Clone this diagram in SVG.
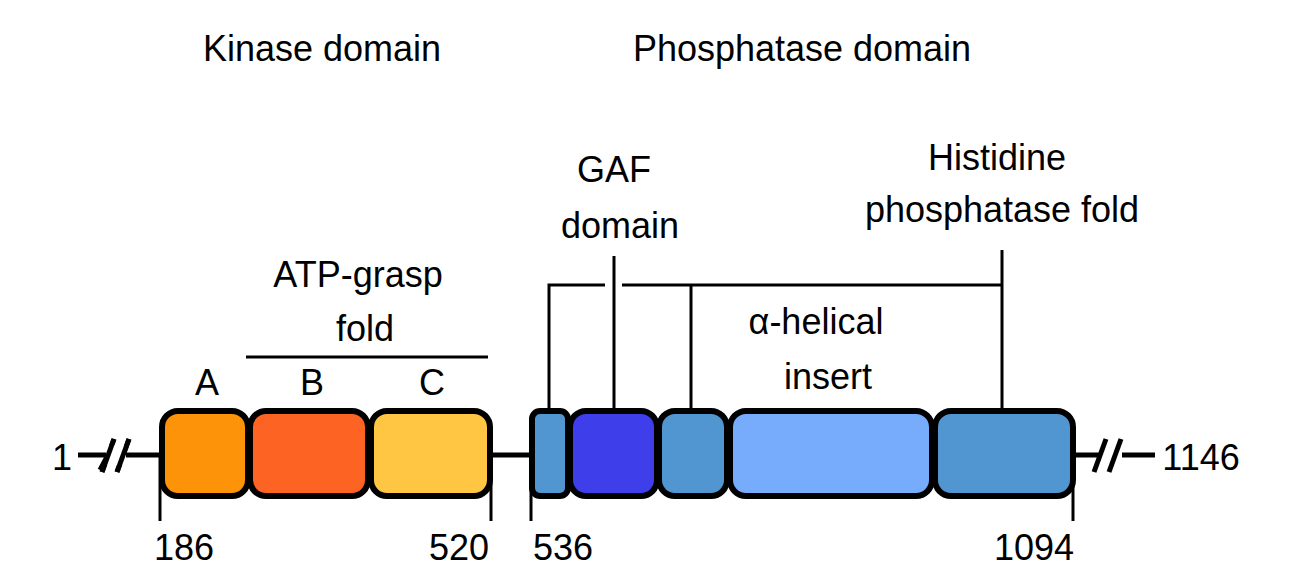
<svg xmlns="http://www.w3.org/2000/svg" width="1313" height="583" viewBox="0 0 1313 583">
<style>
text{font-family:"Liberation Sans",Arial,sans-serif;font-size:36px;fill:#000;text-anchor:middle}
.b{stroke:#000;stroke-width:6}
.l{stroke:#000;stroke-width:3;fill:none}
.t{stroke:#000;stroke-width:5;fill:none}
</style>
<rect width="1313" height="583" fill="#fff"/>
<g id="connectors">
<line class="t" x1="78" y1="455" x2="162" y2="455"/>
<line class="t" x1="490" y1="455" x2="532" y2="455"/>
<line class="t" x1="1073" y1="455" x2="1155" y2="455"/>
<line class="t" x1="100" y1="470" x2="116" y2="440" stroke="#fff"/>
<line x1="107" y1="472" x2="119" y2="439" stroke="#fff" stroke-width="12"/>
<line class="t" x1="102" y1="472" x2="114" y2="439"/>
<line class="t" x1="117" y1="472" x2="129" y2="439"/>
<line x1="1096" y1="472" x2="1124" y2="439" stroke="#fff" stroke-width="0"/>
<rect x="1100" y="445" width="22" height="20" fill="#fff"/>
<rect x="106" y="445" width="20" height="20" fill="#fff"/>
<line class="t" x1="102" y1="472" x2="114" y2="439"/>
<line class="t" x1="117" y1="472" x2="129" y2="439"/>
<line class="t" x1="1094" y1="472" x2="1106" y2="439"/>
<line class="t" x1="1109" y1="472" x2="1121" y2="439"/>
<line class="l" x1="160" y1="455" x2="160" y2="521"/>
<line class="l" x1="491" y1="455" x2="491" y2="521"/>
<line class="l" x1="531" y1="455" x2="531" y2="521"/>
<line class="l" x1="1073" y1="455" x2="1073" y2="521"/>
<line class="l" x1="246" y1="357" x2="488" y2="357"/>
<polyline class="l" points="549,411 549,285 605,285"/>
<line class="l" x1="622" y1="285" x2="1002" y2="285"/>
<line class="l" x1="614" y1="256" x2="614" y2="411"/>
<line class="l" x1="691" y1="285" x2="691" y2="411"/>
<line class="l" x1="1002" y1="250" x2="1002" y2="411"/>
</g>
<g id="A"><rect class="b" x="162" y="411" width="86" height="85" rx="16" fill="#fd9308"/></g>
<g id="B"><rect class="b" x="250" y="411" width="118" height="85" rx="16" fill="#fd6424"/></g>
<g id="C"><rect class="b" x="371" y="411" width="119" height="85" rx="16" fill="#fec642"/></g>
<g id="P1"><rect class="b" x="532" y="411" width="36" height="85" rx="8" fill="#5196d0"/></g>
<g id="GAF"><rect class="b" x="570" y="411" width="87" height="85" rx="16" fill="#3e3feb"/></g>
<g id="P2"><rect class="b" x="659" y="411" width="68" height="85" rx="16" fill="#5196d0"/></g>
<g id="helical"><rect class="b" x="730" y="411" width="202" height="85" rx="16" fill="#76acfb"/></g>
<g id="P3"><rect class="b" x="935" y="411" width="138" height="85" rx="16" fill="#5196d0"/></g>
<g id="labels">
<text x="322" y="61">Kinase domain</text>
<text x="802" y="61">Phosphatase domain</text>
<text x="614" y="182">GAF</text>
<text x="620" y="238">domain</text>
<text x="997" y="170">Histidine</text>
<text x="1002" y="222">phosphatase fold</text>
<text x="358" y="287">ATP-grasp</text>
<text x="365" y="341">fold</text>
<text x="816" y="334">α-helical</text>
<text x="828" y="389">insert</text>
<text x="207" y="395">A</text>
<text x="312" y="395">B</text>
<text x="432" y="395">C</text>
<text x="62" y="470">1</text>
<text x="1201" y="470">1146</text>
<text x="184" y="560">186</text>
<text x="459" y="560">520</text>
<text x="563" y="560">536</text>
<text x="1034" y="560">1094</text>
</g>
</svg>
